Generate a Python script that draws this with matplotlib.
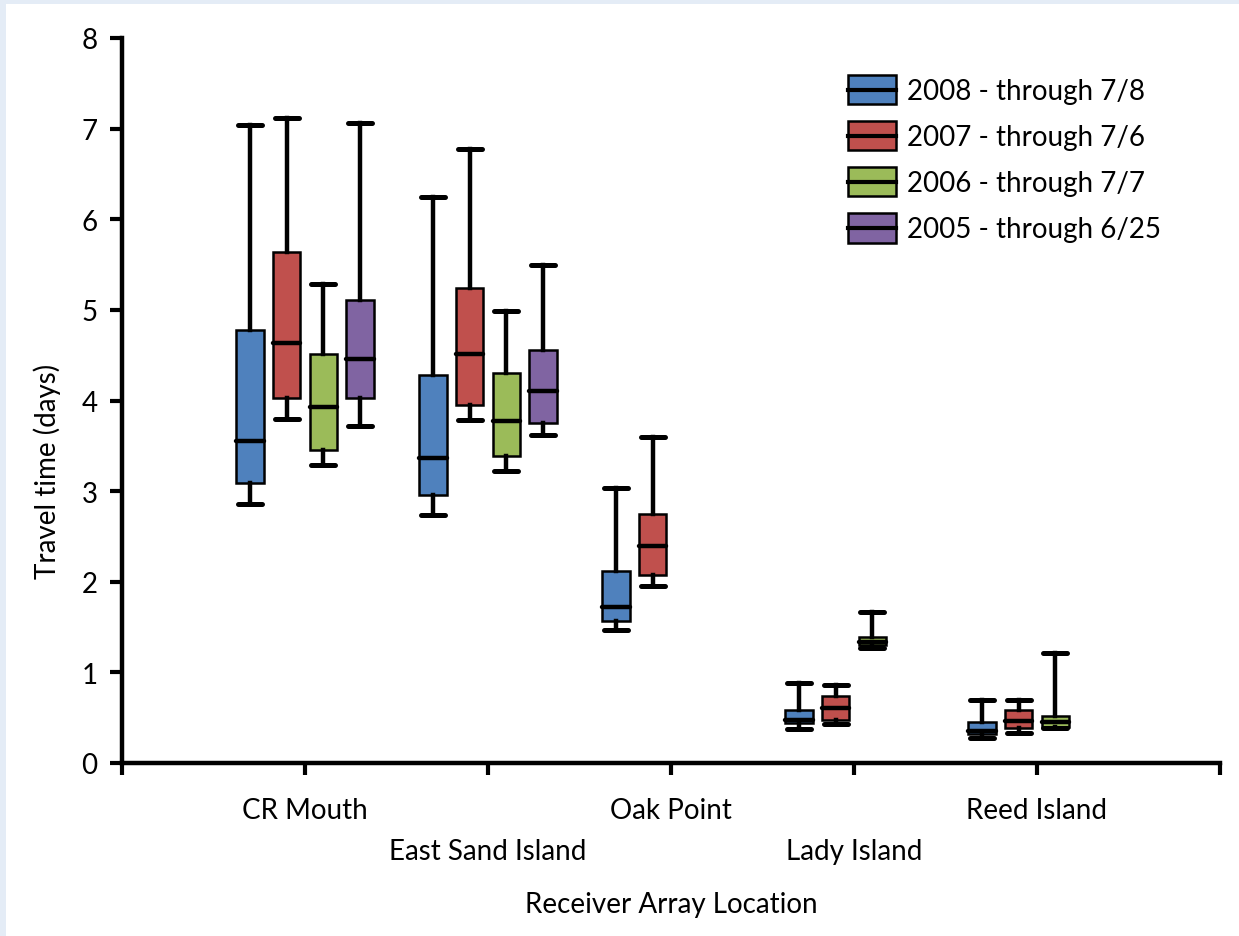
import matplotlib
matplotlib.use("Agg")
import matplotlib.pyplot as plt
from matplotlib.patches import Patch, Rectangle
from matplotlib.lines import Line2D
from matplotlib.legend_handler import HandlerBase

plt.rcParams['font.family'] = ['Lato', 'DejaVu Sans']

# locations along the river
locations = ['CR Mouth', 'East Sand Island', 'Oak Point', 'Lady Island', 'Reed Island']

# (min, q1, median, q3, max) per location, None = no data
box_2008 = [(2.86, 3.09, 3.55, 4.78, 7.04), (2.74, 2.96, 3.37, 4.28, 6.25),
            (1.47, 1.57, 1.72, 2.12, 3.04), (0.38, 0.44, 0.48, 0.58, 0.885),
            (0.28, 0.32, 0.35, 0.45, 0.70)]
box_2007 = [(3.80, 4.03, 4.63, 5.64, 7.12), (3.78, 3.95, 4.51, 5.24, 6.78),
            (1.95, 2.08, 2.40, 2.75, 3.60), (0.43, 0.48, 0.61, 0.74, 0.86),
            (0.33, 0.39, 0.46, 0.58, 0.70)]
box_2006 = [(3.29, 3.45, 3.93, 4.51, 5.29), (3.22, 3.39, 3.77, 4.30, 4.99),
            None, (1.27, 1.30, 1.33, 1.39, 1.67),
            (0.39, 0.40, 0.45, 0.52, 1.21)]
box_2005 = [(3.72, 4.03, 4.46, 5.11, 7.06), (3.62, 3.75, 4.10, 4.56, 5.49),
            None, None, None]

series_labels = ['2008 - through 7/8', '2007 - through 7/6', '2006 - through 7/7', '2005 - through 6/25']
series_boxes = [box_2008, box_2007, box_2006, box_2005]
colors = ['#4f81bd', '#c0504d', '#9bbb59', '#8064a2']
offsets = [-0.3, -0.1, 0.1, 0.3]


class BoxHandler(HandlerBase):
    # legend key: filled box with a median bar across it
    def create_artists(self, legend, orig_handle, xdescent, ydescent, width, height, fontsize, trans):
        r = Rectangle((-xdescent, -ydescent), width, height, facecolor=orig_handle.get_facecolor(),
                      edgecolor='black', linewidth=1.8, transform=trans)
        ln = Line2D([-xdescent, -xdescent + width], [-ydescent + height / 2] * 2,
                    color='black', linewidth=3, transform=trans)
        return [r, ln]


W, H = 1239, 937
fig = plt.figure(figsize=(W / 100, H / 100), dpi=100)
fig.patch.set_facecolor('#e4ecf6')
fig.add_artist(Rectangle((6 / W, 0), 1, 1 - 5 / H, transform=fig.transFigure,
                         facecolor='white', edgecolor='none', zorder=-10))

x0, x1, y0, y1 = 122, 1220, 764, 39
ax = fig.add_axes([x0 / W, 1 - y0 / H, (x1 - x0) / W, (y0 - y1) / H])
ax.set_facecolor('none')

for boxes, col, off in zip(series_boxes, colors, offsets):
    stats, pos = [], []
    for i, b in enumerate(boxes):
        if b is None:
            continue
        lo, q1, med, q3, hi = b
        stats.append(dict(whislo=lo, q1=q1, med=med, q3=q3, whishi=hi, fliers=[]))
        pos.append(i + 1 + off)
    ax.bxp(stats, positions=pos, widths=0.15, capwidths=0.13, patch_artist=True,
           showfliers=False,
           boxprops=dict(facecolor=col, edgecolor='black', linewidth=1.8),
           medianprops=dict(color='black', linewidth=3.2, solid_capstyle='round'),
           whiskerprops=dict(color='black', linewidth=3.2),
           capprops=dict(color='black', linewidth=3.6, solid_capstyle='round'))

ax.set_xlim(0, 6)
ax.set_ylim(0, 8)
ax.set_xticks(range(7))
ax.set_xticklabels([])
ax.set_yticks(range(9))
ax.tick_params(axis='both', direction='out', length=8.5, width=3, labelsize=20)
ax.tick_params(axis='y', pad=9)
for s in ['top', 'right']:
    ax.spines[s].set_visible(False)
for s in ['left', 'bottom']:
    ax.spines[s].set_linewidth(3.2)

# staggered category labels
for i, name in enumerate(locations):
    yb = 819 if i % 2 == 0 else 860
    ax.text(i + 1, -(yb - y0) / (y0 - y1), name, transform=ax.get_xaxis_transform(),
            ha='center', va='baseline', fontsize=20)

fig.text(671 / W, 1 - 905 / H, 'Receiver Array Location', ha='center', va='center', fontsize=20)
fig.text(47 / W, 1 - 471 / H, 'Travel time (days)', ha='center', va='center',
         rotation=90, fontsize=20)

handles = [Patch(facecolor=c) for c in colors]
ax.legend(handles, series_labels, handler_map={Patch: BoxHandler()},
          loc='upper left', bbox_to_anchor=((848 - x0) / (x1 - x0), 1 - (76 - y1) / (y0 - y1)),
          frameon=False, fontsize=20, handlelength=1.72, handleheight=1.25,
          handletextpad=0.4, labelspacing=0.6, borderaxespad=0, borderpad=0)

fig.savefig('out.png', dpi=100, facecolor=fig.get_facecolor())
